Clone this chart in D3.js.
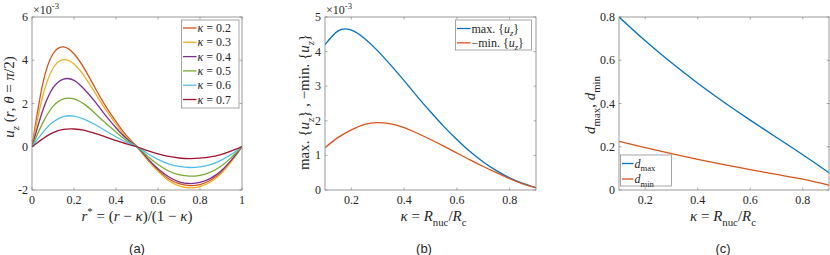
<!DOCTYPE html>
<html lang="en">
<head>
<meta charset="utf-8">
<title>Displacement and gap charts</title>
<script src="https://d3js.org/d3.v7.min.js"></script>
<style>
  body { margin: 0; background: #fff; }
</style>
</head>
<body>
<svg id="fig" width="830" height="255"></svg>
<script>
// ---- data ----
// panel (a): u_z along r* for several kappa, values x 1e-3
var rStar = [0, 0.05, 0.1, 0.15, 0.2, 0.25, 0.3, 0.35, 0.4, 0.45, 0.5,
             0.55, 0.6, 0.65, 0.7, 0.75, 0.8, 0.85, 0.9, 0.95, 1]
var kappaLabels = ["0.2", "0.3", "0.4", "0.5", "0.6", "0.7"]
var uzK02 = [0, 2.86, 4.30, 4.62, 4.30, 3.60, 2.73, 1.89, 1.16, 0.51, 0,
             -0.58, -1.08, -1.48, -1.71, -1.80, -1.75, -1.55, -1.19, -0.65, 0]
var uzK03 = [0, 2.30, 3.63, 4.03, 3.83, 3.26, 2.50, 1.73, 1.05, 0.44, 0,
             -0.61, -1.14, -1.56, -1.81, -1.90, -1.84, -1.63, -1.25, -0.68, 0]
var uzK04 = [0, 1.64, 2.72, 3.13, 3.07, 2.65, 2.09, 1.45, 0.88, 0.38, 0,
             -0.54, -1.02, -1.39, -1.62, -1.70, -1.65, -1.46, -1.12, -0.61, 0]
var uzK05 = [0, 1.08, 1.87, 2.21, 2.21, 1.96, 1.55, 1.10, 0.68, 0.29, 0,
             -0.44, -0.82, -1.12, -1.29, -1.36, -1.32, -1.17, -0.90, -0.49, 0]
var uzK06 = [0, 0.64, 1.14, 1.39, 1.42, 1.27, 1.03, 0.74, 0.46, 0.21, 0,
             -0.31, -0.58, -0.79, -0.91, -0.96, -0.93, -0.83, -0.63, -0.35, 0]
var uzK07 = [0, 0.36, 0.65, 0.80, 0.82, 0.76, 0.62, 0.46, 0.29, 0.13, 0,
             -0.18, -0.33, -0.45, -0.52, -0.55, -0.53, -0.47, -0.36, -0.19, 0]

// panel (b): extremes of u_z against kappa, values x 1e-3
var kappaB = [0.1, 0.15, 0.2, 0.25, 0.3, 0.35, 0.4, 0.45, 0.5, 0.55, 0.6,
              0.65, 0.7, 0.75, 0.8, 0.85, 0.9]
var maxUz = [4.20, 4.60, 4.62, 4.38, 4.02, 3.60, 3.16, 2.70, 2.26, 1.84, 1.46,
             1.11, 0.81, 0.56, 0.35, 0.19, 0.07]
var negMinUz = [1.22, 1.52, 1.74, 1.90, 1.95, 1.91, 1.80, 1.64, 1.46, 1.27, 1.07,
                0.87, 0.68, 0.50, 0.33, 0.18, 0.07]

// panel (c): d_max and d_min against kappa
var kappaC = [0.1, 0.2, 0.3, 0.4, 0.5, 0.6, 0.7, 0.8, 0.9]
var dMax = [0.80, 0.69, 0.588, 0.494, 0.406, 0.323, 0.243, 0.163, 0.08]
var dMin = [0.225, 0.196, 0.168, 0.142, 0.117, 0.094, 0.072, 0.05, 0.022]

var ticksA_x = [0, 0.2, 0.4, 0.6, 0.8, 1], ticksA_y = [-2, 0, 2, 4, 6]
var ticksK = [0.2, 0.4, 0.6, 0.8]
var ticksB_y = [0, 1, 2, 3, 4, 5], ticksC_y = [0, 0.2, 0.4, 0.6, 0.8]

var colA = ["#D95319", "#EDB120", "#7E2F8E", "#77AC30", "#4DBEEE", "#A2142F"]
var blue = "#0072BD", orange = "#D95319"
var serif = "Liberation Serif"

var svg = d3.select("#fig")

// write text made of pieces: n normal, i italic, sub/subi subscript, sup superscript
function rich(t, segs, size) {
    var shift = 0
    t.style("font-family", serif).attr("fill", "#262626")
    segs.forEach(function (s) {
        var k = s[1]
        var ts = t.append("tspan").text(s[0])
        var target = 0
        if (k.indexOf("sub") == 0) target = size * 0.3
        if (k == "sup") target = -size * 0.38
        if (target != shift) ts.attr("dy", target - shift)
        shift = target
        if (k.indexOf("sub") == 0 || k == "sup") ts.attr("font-size", size * 0.72)
        if (k == "i" || k == "subi") ts.style("font-style", "italic")
    })
    return t
}

function panel(o) {
    var x = d3.scaleLinear().domain(o.xd).range([o.l, o.r])
    var y = d3.scaleLinear().domain(o.yd).range([o.b, o.t])
    var g = svg.append("g")
    var tl = 2.5

    // ticks on all sides, inward
    o.xt.forEach(function (v) {
        g.append("line").attr("x1", x(v)).attr("x2", x(v)).attr("y1", o.b).attr("y2", o.b - tl)
            .attr("stroke", "#777").attr("stroke-width", 0.6)
        g.append("line").attr("x1", x(v)).attr("x2", x(v)).attr("y1", o.t).attr("y2", o.t + tl)
            .attr("stroke", "#777").attr("stroke-width", 0.6)
        g.append("text").attr("x", x(v)).attr("y", o.b + 14).attr("text-anchor", "middle")
            .style("font-family", serif).attr("fill", "#262626")
            .attr("font-size", 12).text(String(v))
    })
    o.yt.forEach(function (v) {
        g.append("line").attr("x1", o.l).attr("x2", o.l + tl).attr("y1", y(v)).attr("y2", y(v))
            .attr("stroke", "#777").attr("stroke-width", 0.6)
        g.append("line").attr("x1", o.r).attr("x2", o.r - tl).attr("y1", y(v)).attr("y2", y(v))
            .attr("stroke", "#777").attr("stroke-width", 0.6)
        g.append("text").attr("x", o.l - 4).attr("y", y(v) + 4).attr("text-anchor", "end")
            .style("font-family", serif).attr("fill", "#262626")
            .attr("font-size", 12).text(String(v))
    })

    var clipId = "clip" + o.id
    svg.append("clipPath").attr("id", clipId).append("rect")
        .attr("x", o.l).attr("y", o.t - 1).attr("width", o.r - o.l).attr("height", o.b - o.t + 2)

    var line = d3.line().x(function (d) { return x(d[0]) }).y(function (d) { return y(d[1]) })
        .curve(d3.curveNatural)
    o.series.forEach(function (s) {
        g.append("path").attr("clip-path", "url(#" + clipId + ")")
            .attr("d", line(o.xs.map(function (v, i) { return [v, s.v[i]] })))
            .attr("fill", "none").attr("stroke", s.c).attr("stroke-width", 1.3)
    })

    g.append("rect").attr("x", o.l).attr("y", o.t).attr("width", o.r - o.l).attr("height", o.b - o.t)
        .attr("fill", "none").attr("stroke", "#808080").attr("stroke-width", 0.8)

    if (o.exp) {
        rich(g.append("text").attr("x", o.l + 1).attr("y", o.t - 3).attr("font-size", 12),
            [["×10", "n"], ["-3", "sup"]], 12)
    }

    // axis labels
    rich(g.append("text").attr("x", (o.l + o.r) / 2 + o.xlDx).attr("y", o.b + 31)
        .attr("text-anchor", "middle").attr("font-size", 15), o.xl, 15)
    rich(g.append("text").attr("transform", "translate(" + o.ylx + "," + o.yly + ") rotate(-90)")
        .attr("text-anchor", "middle").attr("font-size", 15), o.yl, 15)

    // legend
    var L = o.leg
    g.append("rect").attr("x", L.x).attr("y", L.y).attr("width", L.w).attr("height", L.h)
        .attr("fill", "#fff").attr("stroke", "#808080").attr("stroke-width", 0.7)
    L.items.forEach(function (it, i) {
        var yy = L.y + L.pad + i * L.dy
        g.append("line").attr("x1", L.x + 1.5).attr("x2", L.x + L.lw).attr("y1", yy).attr("y2", yy)
            .attr("stroke", it.c).attr("stroke-width", 1.3)
        rich(g.append("text").attr("x", L.x + L.lw + 1).attr("y", yy + 4).attr("font-size", 12), it.t, 12)
    })

    svg.append("text").attr("x", o.cap[0]).attr("y", 253)
        .style("font-family", "Liberation Sans").attr("fill", "#262626")
        .attr("text-anchor", "middle").attr("font-size", 13).text(o.cap[1])
}

var uzAll = [uzK02, uzK03, uzK04, uzK05, uzK06, uzK07]
var kappaX = [["κ", "i"], [" = ", "n"], ["R", "i"], ["nuc", "sub"], ["/", "n"], ["R", "i"], ["c", "sub"]]

panel({
    id: "a", l: 32, r: 242, t: 17, b: 190, xd: [0, 1], yd: [-2, 6],
    xt: ticksA_x, yt: ticksA_y, exp: true, xs: rStar,
    series: uzAll.map(function (v, i) { return { v: v, c: colA[i] } }),
    xl: [["r", "i"], ["*", "sup"], [" = (", "n"], ["r", "i"], [" − ", "n"], ["κ", "i"], [")/(1 − ", "n"], ["κ", "i"], [")", "n"]],
    xlDx: 0,
    yl: [["u", "i"], ["z", "subi"], [" (", "n"], ["r", "i"], [", ", "n"], ["θ", "i"], [" = ", "n"], ["π", "i"], ["/2)", "n"]],
    ylx: 14, yly: 97,
    leg: {
        x: 181.5, y: 20, w: 57.5, h: 88, pad: 8, dy: 14.3, lw: 15,
        items: kappaLabels.map(function (k, i) { return { c: colA[i], t: [["κ", "i"], [" = " + k, "n"]] } })
    },
    cap: [137, "(a)"]
})

panel({
    id: "b", l: 325, r: 536, t: 17, b: 190, xd: [0.1, 0.9], yd: [0, 5],
    xt: ticksK, yt: ticksB_y, exp: true, xs: kappaB,
    series: [{ v: maxUz, c: blue }, { v: negMinUz, c: orange }],
    xl: kappaX, xlDx: 3,
    yl: [["max. {", "n"], ["u", "i"], ["z", "subi"], ["} , −min. {", "n"], ["u", "i"], ["z", "subi"], ["}", "n"]],
    ylx: 309, yly: 102,
    leg: {
        x: 455.5, y: 20, w: 76, h: 30, pad: 8.5, dy: 14.3, lw: 15,
        items: [{ c: blue, t: [["max. {", "n"], ["u", "i"], ["z", "subi"], ["}", "n"]] },
                { c: orange, t: [["−min. {", "n"], ["u", "i"], ["z", "subi"], ["}", "n"]] }]
    },
    cap: [424, "(b)"]
})

panel({
    id: "c", l: 619, r: 829, t: 17, b: 190, xd: [0.1, 0.9], yd: [0, 0.8],
    xt: ticksK, yt: ticksC_y, exp: false, xs: kappaC,
    series: [{ v: dMax, c: blue }, { v: dMin, c: orange }],
    xl: kappaX, xlDx: -1,
    yl: [["d", "i"], ["max", "sub"], [", ", "n"], ["d", "i"], ["min", "sub"]],
    ylx: 595, yly: 105,
    leg: {
        x: 620.5, y: 155, w: 51, h: 31, pad: 8.5, dy: 15.5, lw: 13,
        items: [{ c: blue, t: [["d", "i"], ["max", "sub"]] },
                { c: orange, t: [["d", "i"], ["min", "sub"]] }]
    },
    cap: [723, "(c)"]
})
</script>
</body>
</html>
